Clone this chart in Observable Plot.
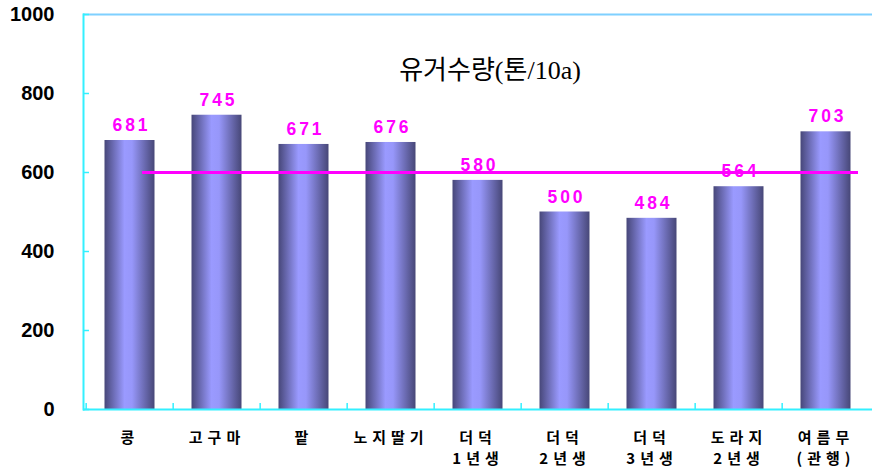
<!DOCTYPE html>
<html>
<head>
<meta charset="utf-8">
<script src="https://cdn.jsdelivr.net/npm/d3@7"></script>
<script src="https://cdn.jsdelivr.net/npm/@observablehq/plot@0.6"></script>
<style>
  html, body { margin: 0; padding: 0; background: #fff; }
  g[aria-label="x-axis tick label"] text { letter-spacing: 5px; }
</style>
</head>
<body>
<div id="chart"></div>
<script>
const categories = ["콩", "고구마", "팥", "노지딸기", "더덕\n1년생", "더덕\n2년생", "더덕\n3년생", "도라지\n2년생", "여름무\n(관행)"];
const values = [681, 745, 671, 676, 580, 500, 484, 564, 703];
const yTicks = [0, 200, 400, 600, 800, 1000];
const referenceValue = [600];
const chartTitle = "유거수량(톤/10a)";

const data = categories.map((c, i) => ({cat: c, value: values[i]}));

const W = 872, H = 468, mL = 83, mR = 0, mT = 14, mB = 59;
const frameW = W - mL - mR, frameH = H - mT - mB;
const bw = frameW / categories.length;

const plot = Plot.plot({
  width: W, height: H,
  marginLeft: mL, marginRight: mR, marginTop: mT, marginBottom: mB,
  style: {fontFamily: "'Liberation Sans', 'Noto Sans CJK KR', sans-serif", background: "#fff"},
  x: {domain: categories, padding: 0, axis: null},
  y: {domain: [0, 1000], axis: null},
  marks: [
    Plot.barY(data, {x: "cat", y: "value", fill: "url(#barGrad)", insetLeft: 18.5, insetRight: 18.5}),
    Plot.ruleY(referenceValue, {stroke: "#FF00FF", strokeWidth: 3, insetLeft: 59, insetRight: 14}),
    Plot.text(data, {x: "cat", y: "value", text: d => String(d.value), dy: -15, dx: 1.5,
      fill: "#FF00FF", fontSize: 17.5, fontWeight: "bold", ariaLabel: "values"}),
    Plot.ruleY([1000], {stroke: "#7FD0FF", strokeWidth: 2}),
    Plot.ruleY([0], {stroke: "#33F0FF", strokeWidth: 2}),
    Plot.frame({anchor: "left", stroke: "#33F0FF", strokeWidth: 2}),
    Plot.tickY(yTicks, {y: d => d, stroke: "#33F0FF", strokeWidth: 1.5, insetRight: frameW - 6}),
    Plot.tickX(categories, {x: d => d, dx: -bw / 2, stroke: "#33F0FF", strokeWidth: 1.5, insetTop: frameH - 6}),
    Plot.axisY({ticks: yTicks, tickFormat: d3.format("d"), tickSize: 0, tickPadding: 29, fontSize: 20, fontWeight: "bold", label: null, color: "#000"}),
    Plot.axisX({tickSize: 0, tickPadding: 19, fontSize: 15, fontWeight: "bold", lineHeight: 1.4, label: null, color: "#000",
      fontFamily: "'Noto Sans CJK KR', sans-serif"}),
    Plot.text([chartTitle], {frameAnchor: "top", dy: 46, dx: 12, fontSize: 26,
      fontFamily: "'Liberation Serif', 'Noto Sans CJK KR', serif", fill: "#000"})
  ]
});

const ns = "http://www.w3.org/2000/svg";
const defs = document.createElementNS(ns, "defs");
const grad = document.createElementNS(ns, "linearGradient");
grad.setAttribute("id", "barGrad");
grad.setAttribute("x1", "0"); grad.setAttribute("x2", "1");
grad.setAttribute("y1", "0"); grad.setAttribute("y2", "0");
[["0%", "#474779"], ["40%", "#9A9AFF"], ["55%", "#9797FA"], ["100%", "#474777"]].forEach(([o, c]) => {
  const s = document.createElementNS(ns, "stop");
  s.setAttribute("offset", o); s.setAttribute("stop-color", c);
  grad.appendChild(s);
});
defs.appendChild(grad);
plot.insertBefore(defs, plot.firstChild);

const valueStrings = new Set(values.map(String));
plot.querySelectorAll("text").forEach(t => {
  if (t.getAttribute("fill") === "#FF00FF" || (t.parentNode && t.parentNode.getAttribute("fill") === "#FF00FF") || (valueStrings.has(t.textContent) && t.closest('g[aria-label="values"]'))) {
    t.style.letterSpacing = "3px";
  }
});
document.getElementById("chart").appendChild(plot);
</script>
</body>
</html>
